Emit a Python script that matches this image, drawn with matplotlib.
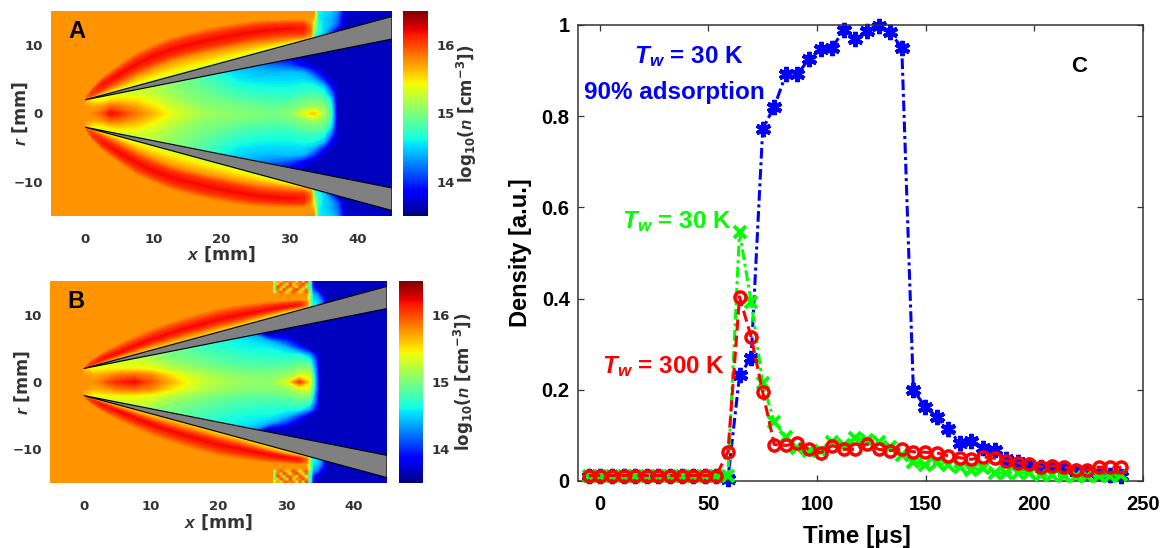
import numpy as np
import matplotlib
matplotlib.use('Agg')
import matplotlib.pyplot as plt
from matplotlib.cm import ScalarMappable
from matplotlib.colors import Normalize
from matplotlib.patches import Polygon

plt.rcParams['mathtext.fontset'] = 'custom'
plt.rcParams['mathtext.bfit'] = 'Liberation Sans:italic:bold'
plt.rcParams['mathtext.bf'] = 'DejaVu Sans:bold'
plt.rcParams['mathtext.rm'] = 'DejaVu Sans'

W, H = 1163, 548

ambient_n = 15.75

# nozzle wall outline: tip, then outer and inner edge at the right border
wall_x = [0, 45, 45]
wall_r = [2, 14.2, 10.9]

# gas between the walls: log10(n), rows r = 0..11 mm, mirrored for r < 0
core_x = [0, 1.25, 2.5, 3.75, 5, 7.5, 10, 12.5, 15, 17.5, 20, 22.5, 25, 27.5, 30, 32, 33.5, 35, 36, 37, 45]
core_a = [
    [15.75, 15.8, 15.95, 16.2, 16.1, 15.85, 15.65, 15.4, 15.25, 15.15, 15.1, 15.05, 15.02, 14.98, 15.05, 15.35, 15.6, 15.2, 14.85, 13.68, 13.68],
    [15.75, 15.7, 15.75, 15.9, 15.85, 15.7, 15.5, 15.3, 15.18, 15.05, 15.02, 14.98, 14.95, 14.9, 14.95, 15.05, 15.15, 15.05, 14.75, 13.68, 13.68],
    [15.6, 15.4, 15.4, 15.5, 15.55, 15.5, 15.35, 15.2, 15.08, 15.0, 14.95, 14.86, 14.82, 14.8, 14.8, 14.92, 14.95, 14.9, 14.55, 13.68, 13.68],
    [15.5, 15.3, 15.3, 15.3, 15.3, 15.3, 15.25, 15.12, 15.02, 14.95, 14.85, 14.77, 14.72, 14.7, 14.7, 14.75, 14.78, 14.68, 14.25, 13.68, 13.68],
    [15.3, 15.3, 15.3, 15.3, 15.3, 15.3, 15.2, 15.08, 14.98, 14.88, 14.77, 14.67, 14.62, 14.6, 14.6, 14.65, 14.65, 14.45, 13.9, 13.68, 13.68],
    [15.2, 15.2, 15.2, 15.2, 15.2, 15.2, 15.1, 15.0, 14.93, 14.82, 14.7, 14.57, 14.52, 14.52, 14.52, 14.52, 14.4, 13.95, 13.68, 13.68, 13.68],
    [15.2, 15.2, 15.2, 15.2, 15.2, 15.2, 15.0, 14.9, 14.85, 14.78, 14.6, 14.5, 14.45, 14.42, 14.45, 14.4, 14.05, 13.68, 13.68, 13.68, 13.68],
    [15.2, 15.2, 15.2, 15.2, 15.2, 15.2, 15.0, 14.9, 14.75, 14.68, 14.5, 14.4, 14.32, 14.22, 14.1, 13.85, 13.68, 13.68, 13.68, 13.68, 13.68],
    [15.2, 15.2, 15.2, 15.2, 15.2, 15.2, 15.0, 14.9, 14.7, 14.5, 14.3, 14.2, 14.05, 13.95, 13.85, 13.68, 13.68, 13.68, 13.68, 13.68, 13.68],
    [15.2, 15.2, 15.2, 15.2, 15.2, 15.2, 15.0, 14.9, 14.7, 14.5, 14.3, 14.0, 13.68, 13.68, 13.68, 13.68, 13.68, 13.68, 13.68, 13.68, 13.68],
    [15.2, 15.2, 15.2, 15.2, 15.2, 15.2, 15.0, 14.9, 14.7, 14.5, 14.3, 14.0, 13.68, 13.68, 13.68, 13.68, 13.68, 13.68, 13.68, 13.68, 13.68],
    [15.2, 15.2, 15.2, 15.2, 15.2, 15.2, 15.0, 14.9, 14.7, 14.5, 14.3, 14.0, 13.68, 13.68, 13.68, 13.68, 13.68, 13.68, 13.68, 13.68, 13.68],
]
core_b = [
    [15.75, 15.75, 15.85, 16.0, 16.1, 16.2, 15.95, 15.7, 15.45, 15.28, 15.2, 15.12, 15.08, 15.08, 15.3, 16.05, 15.5, 13.68, 13.68, 13.68, 13.68],
    [15.75, 15.7, 15.7, 15.75, 15.85, 15.9, 15.8, 15.55, 15.35, 15.22, 15.12, 15.07, 15.03, 15.03, 15.1, 15.3, 15.35, 13.68, 13.68, 13.68, 13.68],
    [15.6, 15.4, 15.4, 15.45, 15.45, 15.45, 15.4, 15.25, 15.15, 15.05, 14.98, 14.93, 14.9, 14.9, 14.93, 15.05, 15.05, 13.68, 13.68, 13.68, 13.68],
    [15.5, 15.3, 15.3, 15.3, 15.3, 15.3, 15.25, 15.1, 15.02, 14.95, 14.88, 14.82, 14.8, 14.78, 14.8, 14.83, 14.78, 13.68, 13.68, 13.68, 13.68],
    [15.3, 15.3, 15.3, 15.3, 15.3, 15.3, 15.1, 15.0, 14.92, 14.86, 14.8, 14.75, 14.7, 14.68, 14.65, 14.66, 14.35, 13.68, 13.68, 13.68, 13.68],
    [15.2, 15.2, 15.2, 15.2, 15.2, 15.2, 15.0, 14.95, 14.88, 14.78, 14.72, 14.65, 14.6, 14.6, 14.45, 14.05, 13.68, 13.68, 13.68, 13.68, 13.68],
    [15.2, 15.2, 15.2, 15.2, 15.2, 15.2, 15.0, 14.9, 14.78, 14.7, 14.65, 14.6, 14.55, 14.42, 14.05, 13.68, 13.68, 13.68, 13.68, 13.68, 13.68],
    [15.2, 15.2, 15.2, 15.2, 15.2, 15.2, 15.0, 14.9, 14.7, 14.65, 14.58, 14.5, 14.38, 13.68, 13.68, 13.68, 13.68, 13.68, 13.68, 13.68, 13.68],
    [15.2, 15.2, 15.2, 15.2, 15.2, 15.2, 15.0, 14.9, 14.7, 14.6, 14.5, 14.2, 13.68, 13.68, 13.68, 13.68, 13.68, 13.68, 13.68, 13.68, 13.68],
    [15.2, 15.2, 15.2, 15.2, 15.2, 15.2, 15.0, 14.9, 14.7, 14.6, 14.5, 14.2, 13.68, 13.68, 13.68, 13.68, 13.68, 13.68, 13.68, 13.68, 13.68],
    [15.2, 15.2, 15.2, 15.2, 15.2, 15.2, 15.0, 14.9, 14.7, 14.6, 14.5, 14.2, 13.68, 13.68, 13.68, 13.68, 13.68, 13.68, 13.68, 13.68, 13.68],
    [15.2, 15.2, 15.2, 15.2, 15.2, 15.2, 15.0, 14.9, 14.7, 14.6, 14.5, 14.2, 13.68, 13.68, 13.68, 13.68, 13.68, 13.68, 13.68, 13.68, 13.68],
]

# gas behind the shock at the top right, rows r = 11..15 mm, mirrored for r < 0
edge_r = [11, 12, 13, 14, 15]
edge_x_a = [33, 33.6, 34.2, 35, 36, 37, 38, 45]
edge_a = [
    [15.4, 14.6, 14.5, 14.4, 14.0, 13.68, 13.68, 13.68],
    [15.75, 15.0, 14.7, 14.5, 14.1, 13.68, 13.68, 13.68],
    [15.75, 15.2, 14.7, 14.5, 14.4, 14.1, 13.68, 13.68],
    [15.75, 15.6, 14.6, 14.5, 14.4, 14.2, 13.68, 13.68],
    [15.75, 15.75, 14.6, 14.55, 14.5, 14.3, 13.8, 13.68],
]
edge_x_b = [33, 33.6, 34, 34.6, 35.2, 36, 45]
edge_b = [
    [15.5, 15.0, 14.6, 14.6, 14.2, 13.68, 13.68],
    [15.75, 15.0, 14.6, 14.5, 14.3, 13.68, 13.68],
    [15.75, 15.0, 14.4, 14.3, 13.9, 13.68, 13.68],
    [15.75, 14.9, 13.9, 13.68, 13.68, 13.68, 13.68],
    [15.75, 14.9, 13.8, 13.68, 13.68, 13.68, 13.68],
]

# dense shock layer over the outer wall: radii of the colour bands at each x station
lobe_x = [0.2, 1, 2.5, 5, 7.5, 10, 12.5, 15, 17.5, 20, 22.5, 25, 27.5, 30, 32, 33, 33.5]
lobe_wall = [2.05, 2.27, 2.68, 3.36, 4.03, 4.71, 5.39, 6.07, 6.74, 7.42, 8.1, 8.78, 9.46, 10.13, 10.68, 10.95, 11.08]
lobe_a = [
    lobe_wall,
    [2.15, 2.45, 3.1, 4.2, 5.5, 6.6, 7.6, 8.3, 8.9, 9.4, 9.9, 10.3, 10.6, 10.9, 11.1, 11.3, 11.5],
    [2.2, 2.7, 3.6, 5.0, 6.4, 7.5, 8.4, 9.1, 9.7, 10.2, 10.7, 11.2, 11.5, 11.7, 11.7, 11.8, 12.0],
    [2.3, 3.0, 4.2, 5.7, 7.2, 8.4, 9.3, 10.0, 10.6, 11.1, 11.6, 12.0, 12.25, 12.4, 12.35, 12.3, 12.3],
    [2.4, 3.3, 4.7, 6.4, 8.0, 9.2, 10.2, 10.9, 11.5, 12.0, 12.4, 12.8, 13.0, 13.1, 13.1, 12.9, 12.6],
    [2.5, 3.7, 5.3, 7.2, 8.9, 10.1, 11.1, 11.8, 12.4, 12.9, 13.3, 13.6, 13.7, 13.75, 13.75, 13.5, 12.9],
]
lobe_b = [
    lobe_wall,
    [2.1, 2.4, 2.9, 3.7, 4.5, 5.3, 6.0, 6.7, 7.4, 8.1, 8.7, 9.4, 10.1, 10.7, 11.05, 11.25, 11.35],
    [2.1, 2.5, 3.1, 4.0, 4.9, 5.8, 6.6, 7.4, 8.0, 8.7, 9.3, 9.9, 10.45, 10.95, 11.25, 11.4, 11.5],
    [2.1, 2.6, 3.3, 4.3, 5.3, 6.3, 7.1, 7.9, 8.6, 9.3, 9.8, 10.3, 10.8, 11.2, 11.45, 11.6, 11.65],
    [2.2, 2.8, 3.7, 4.8, 5.9, 6.9, 7.8, 8.6, 9.3, 10.0, 10.5, 10.9, 11.3, 11.6, 11.8, 11.9, 11.9],
    [2.3, 3.1, 4.2, 5.6, 6.8, 7.9, 8.8, 9.6, 10.3, 11.0, 11.4, 11.7, 11.95, 12.1, 12.2, 12.2, 12.1],
]
# log10(n) on those bands
wall_n_a = [15.5, 15.4, 15.35, 15.3, 15.3, 15.3, 15.3, 15.3, 15.3, 15.3, 15.3, 15.3, 15.3, 15.3, 15.35, 15.4, 15.4]
wall_n_b = [15.6, 15.55, 15.5, 15.5, 15.5, 15.5, 15.5, 15.5, 15.5, 15.45, 15.45, 15.4, 15.4, 15.4, 15.4, 15.4, 15.4]
orange_n = [15.75, 15.75, 15.75, 15.75, 15.75, 15.75, 15.75, 15.75, 15.75, 15.75, 15.75, 15.75, 15.75, 15.75, 15.75, 15.7, 15.5]
red_n = [15.85, 16.0, 16.05, 16.05, 16.05, 16.05, 16.05, 16.05, 16.05, 16.05, 16.05, 16.05, 16.05, 16.05, 16.05, 15.85, 15.5]
peak_n = [15.9, 16.05, 16.15, 16.2, 16.2, 16.2, 16.2, 16.2, 16.2, 16.2, 16.2, 16.2, 16.2, 16.2, 16.15, 15.9, 15.5]

# speckled patch above the shock layer in panel B, bottom row first
speck_b = [
    [15.75, 15.75, 15.75, 15.75, 15.75, 15.75, 15.75, 15.75, 15.75, 15.75, 15.75, 15.3],
    [15.2, 15.75, 16.0, 15.75, 15.5, 15.75, 16.05, 15.75, 15.4, 15.75, 16.0, 15.0],
    [15.0, 15.9, 15.4, 16.1, 15.75, 15.3, 15.9, 16.1, 15.75, 15.2, 15.9, 14.9],
    [15.3, 16.1, 15.75, 15.2, 16.0, 15.9, 15.75, 15.3, 16.05, 15.75, 15.4, 14.7],
    [14.9, 15.5, 16.05, 15.75, 15.3, 16.1, 15.4, 15.9, 15.75, 16.1, 15.75, 14.9],
    [15.4, 15.75, 15.3, 15.9, 15.9, 15.75, 15.9, 15.4, 16.0, 15.3, 16.1, 14.8],
]

# panel C
time_us = [-5, 0.33, 5.67, 11, 16.33, 21.67, 27, 32.33, 37.67, 43, 48.33, 53.67, 59, 64.33, 69.67, 75,
           80.33, 85.67, 91, 96.33, 101.67, 107, 112.33, 117.67, 123, 128.33, 133.67, 139, 144.33, 149.67,
           155, 160.33, 165.67, 171, 176.33, 181.67, 187, 192.33, 197.67, 203, 208.33, 213.67, 219, 224.33,
           229.67, 235, 240]
blue_30k = [0.01, 0.01, 0.01, 0.01, 0.01, 0.01, 0.01, 0.01, 0.01, 0.01, 0.01, 0.01, 0.005, 0.232, 0.27, 0.772,
            0.821, 0.892, 0.892, 0.926, 0.947, 0.95, 0.99, 0.97, 0.987, 0.998, 0.984, 0.95, 0.2, 0.163,
            0.141, 0.113, 0.084, 0.088, 0.072, 0.068, 0.048, 0.042, 0.035, 0.031, 0.03, 0.028, 0.023, 0.02,
            0.017, 0.013, 0.01]
green_30k = [0.012, 0.012, 0.012, 0.012, 0.012, 0.012, 0.012, 0.012, 0.012, 0.012, 0.012, 0.012, 0.012, 0.546, 0.393, 0.215,
             0.13, 0.097, 0.072, 0.066, 0.066, 0.086, 0.079, 0.094, 0.091, 0.086, 0.075, 0.057, 0.042, 0.035,
             0.039, 0.035, 0.03, 0.024, 0.028, 0.018, 0.018, 0.018, 0.017, 0.013, 0.013, 0.011, 0.011, 0.01,
             0.011, 0.011, 0.013]
red_300k = [0.012, 0.012, 0.012, 0.012, 0.012, 0.012, 0.012, 0.012, 0.012, 0.012, 0.012, 0.012, 0.064, 0.404, 0.316, 0.195,
            0.08, 0.078, 0.083, 0.0695, 0.062, 0.0775, 0.0695, 0.0695, 0.081, 0.0695, 0.0665, 0.0695, 0.064, 0.063,
            0.062, 0.055, 0.051, 0.0475, 0.053, 0.05, 0.0445, 0.04, 0.037, 0.031, 0.033, 0.031, 0.024, 0.024,
            0.03, 0.03, 0.03]

x_ticks = [0, 10, 20, 30, 40]
r_ticks = [-10, 0, 10]
cbar_ticks = [14, 15, 16]
time_ticks = [0, 50, 100, 150, 200, 250]
dens_ticks = [0, 0.2, 0.4, 0.6, 0.8, 1]
dens_labels = ['0', '0.2', '0.4', '0.6', '0.8', '1']

norm = Normalize(13.5, 16.5)
levels = np.linspace(13.5, 16.5, 151)
dark = '#333333'


def px_axes(fig, x0, y0, x1, y1):
    return fig.add_axes([x0 / W, 1 - y1 / H, (x1 - x0) / W, (y1 - y0) / H])


def fill_map(ax, x, r, table):
    return ax.contourf(x, r, table, levels=levels, cmap='jet', norm=norm, antialiased=False, zorder=1)


def draw_map(fig, core, edge_x, edge, lobe, wall_n, speck, box, cbox, letter, letter_xy, xlab_y, rlab_x, clab_x):
    ax = px_axes(fig, *box)
    ax.set_facecolor(plt.get_cmap('jet')(norm(ambient_n)))

    # between the walls, clipped to the inner wedge
    half = np.array(core)
    core_r = np.arange(-11, 12)
    cs = fill_map(ax, core_x, core_r, np.vstack([half[:0:-1], half]))
    inner = Polygon([(wall_x[0], wall_r[0]), (wall_x[2], wall_r[2]), (wall_x[2], -wall_r[2]), (wall_x[0], -wall_r[0])],
                    closed=True, transform=ax.transData, fc='none', ec='none')
    ax.add_patch(inner)
    cs.set_clip_path(inner)

    for sign in (1, -1):
        fill_map(ax, edge_x, sign * np.array(edge_r), edge)
        band_n = np.array([wall_n, orange_n, red_n, peak_n, red_n, orange_n])
        fill_map(ax, np.tile(lobe_x, (6, 1)), sign * np.array(lobe), band_n)
        if speck is not None:
            ext = [28.1, 33.6, 12.7, 15] if sign > 0 else [28.1, 33.6, -12.7, -15]
            ax.imshow(speck, extent=ext, origin='lower', cmap='jet', norm=norm, interpolation='bilinear',
                      aspect='auto', zorder=2)
        # the wall, with its black edge line
        ax.fill(wall_x, [sign * v for v in wall_r], facecolor='#808080', edgecolor='black', lw=0.8, zorder=3)

    ax.set_xlim(-5, 45)
    ax.set_ylim(-15, 15)
    ax.set_xticks(x_ticks)
    ax.set_yticks(r_ticks)
    ax.set_yticklabels(['\u221210', '0', '10'])
    ax.tick_params(axis='x', length=0, labelsize=9.5, labelcolor=dark, pad=12)
    ax.tick_params(axis='y', length=0, labelsize=9.5, labelcolor=dark, pad=6)
    for lab in ax.get_xticklabels() + ax.get_yticklabels():
        lab.set_fontweight('bold')
    for s in ax.spines.values():
        s.set_visible(False)
    fig.text((box[0] + box[2]) / 2 / W, 1 - xlab_y / H, r'$\mathbfit{x}$ [mm]', ha='center', va='center',
             fontsize=12.5, fontweight='bold', color=dark)
    fig.text(rlab_x / W, 1 - (box[1] + box[3]) / 2 / H, r'$\mathbfit{r}$ [mm]', ha='center', va='center',
             rotation=90, fontsize=12.5, fontweight='bold', color=dark)
    fig.text(letter_xy[0] / W, 1 - letter_xy[1] / H, letter, ha='center', va='center', fontsize=17,
             fontweight='bold', family='Liberation Sans', color='black')

    cax = px_axes(fig, *cbox)
    cb = fig.colorbar(ScalarMappable(norm=norm, cmap='jet'), cax=cax)
    cb.set_ticks(cbar_ticks)
    cb.outline.set_visible(False)
    cax.tick_params(length=0, labelsize=9.5, labelcolor=dark, pad=6)
    for lab in cax.get_yticklabels():
        lab.set_fontweight('bold')
    fig.text(clab_x / W, 1 - (cbox[1] + cbox[3]) / 2 / H,
             r'log$_{\mathbf{10}}$($\mathbfit{n}$ [cm$^{\mathbf{-3}}$])', ha='center', va='center', rotation=90,
             fontsize=12, fontweight='bold', color=dark)


fig = plt.figure(figsize=(W / 100, H / 100), dpi=100)

draw_map(fig, core_a, edge_x_a, edge_a, lobe_a, wall_n_a, None, (51, 11, 392, 216), (403, 11, 428, 216),
         'A', (77, 32), 254, 20, 467)
draw_map(fig, core_b, edge_x_b, edge_b, lobe_b, wall_n_b, speck_b, (50, 281, 387, 483), (399, 281, 423, 483),
         'B', (76, 302), 522, 22, 464)

ax = px_axes(fig, 578, 25, 1143, 481)
ax.plot(time_us, blue_30k, color='#0000FF', ls=(0, (3.5, 1.2, 1, 1.2)), lw=2.2, marker=(6, 2, 0), ms=11, mew=3,
        zorder=2, clip_on=False)
ax.plot(time_us, green_30k, color='#00FF00', ls=(0, (3.5, 1.2, 1, 1.2)), lw=2.2, marker='x', ms=8.5, mew=2.8,
        zorder=3, clip_on=False)
ax.plot(time_us, red_300k, color='#FF0000', ls='--', lw=2.2, marker='o', ms=8, mew=2.5, mfc='none',
        zorder=4, clip_on=False)
ax.set_xlim(-10, 250)
ax.set_ylim(0, 1)
ax.set_xticks(time_ticks)
ax.set_yticks(dens_ticks)
ax.set_yticklabels(dens_labels)
ax.tick_params(direction='in', top=True, right=True, length=4, width=0.9, labelsize=14.5, color=dark)
ax.tick_params(axis='x', pad=10)
ax.tick_params(axis='y', pad=6)
for lab in ax.get_xticklabels() + ax.get_yticklabels():
    lab.set_fontweight('bold')
    lab.set_family('Liberation Sans')
for s in ax.spines.values():
    s.set_linewidth(1.1)
    s.set_color(dark)

font_c = dict(family='Liberation Sans', fontweight='bold', ha='center', va='center')
fig.text(857 / W, 1 - 536 / H, 'Time [\u03bcs]', fontsize=17.5, **font_c)
fig.text(521 / W, 1 - 253 / H, 'Density [a.u.]', fontsize=17, rotation=90, **font_c)
fig.text(1079 / W, 1 - 66 / H, 'C', fontsize=16, **font_c)
fig.text(689 / W, 1 - 57 / H, r'$\mathbfit{T_w}$ = 30 K', color='#0000FF', fontsize=17.5, **font_c)
fig.text(674 / W, 1 - 93 / H, '90% adsorption', color='#0000FF', fontsize=17.5, **font_c)
fig.text(677 / W, 1 - 222 / H, r'$\mathbfit{T_w}$ = 30 K', color='#00FF00', fontsize=17.5, **font_c)
fig.text(664 / W, 1 - 367 / H, r'$\mathbfit{T_w}$ = 300 K', color='#FF0000', fontsize=17.5, **font_c)

fig.savefig('out.png', dpi=100)
